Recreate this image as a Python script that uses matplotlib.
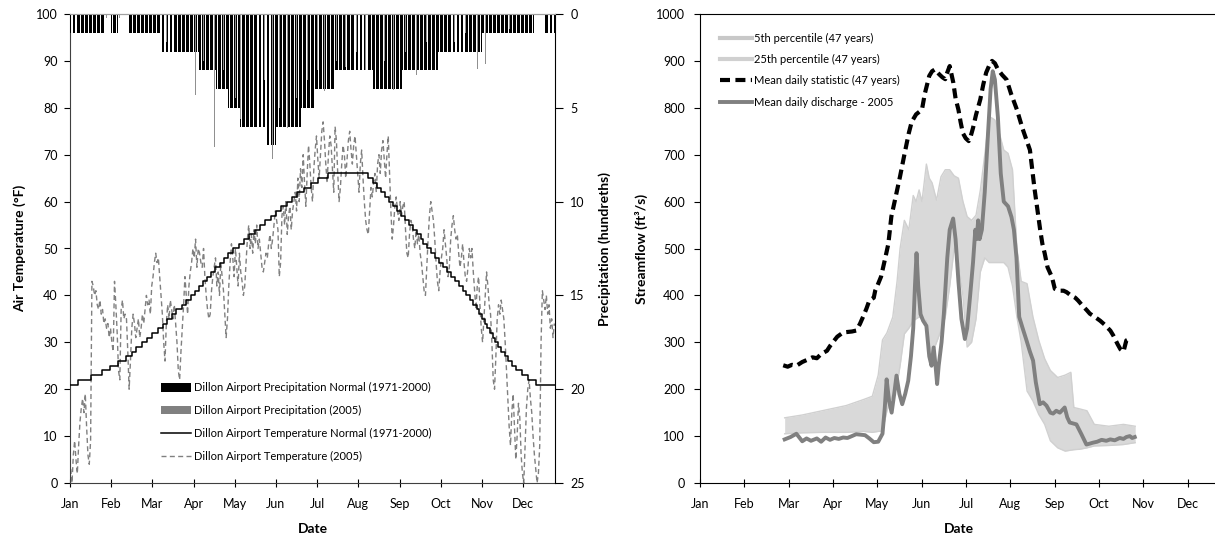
import numpy as np
import matplotlib
matplotlib.use("Agg")
import matplotlib.pyplot as plt
from matplotlib.lines import Line2D
from matplotlib.patches import Patch

plt.rcParams['font.family'] = ['Lato', 'DejaVu Sans']

# ---------------- data ----------------
month_labels = ['Jan', 'Feb', 'Mar', 'Apr', 'May', 'Jun', 'Jul', 'Aug', 'Sep', 'Oct', 'Nov', 'Dec']
month_tick_days = [0, 31, 62, 93, 124, 155, 186, 217, 248, 279, 310, 341]

# Dillon Airport normal temperature (1971-2000): day on which each value starts
temp_normal_days = [0, 6, 16, 24, 30, 36, 42, 47, 50, 54, 58, 62, 66, 70, 73, 77, 80, 84, 87, 91,
                    94, 97, 100, 103, 106, 109, 113, 116, 119, 123, 127, 131, 135, 139, 143, 147,
                    151, 155, 159, 163, 167, 171, 176, 181, 187, 194,
                    224, 228, 231, 234, 237, 240, 243, 246, 249, 252, 255, 258, 261, 264, 266,
                    269, 272, 275, 278, 281, 284, 287, 290, 293, 296, 298, 301, 303, 306, 308,
                    310, 312, 314, 316, 318, 320, 322, 324, 327, 330, 333, 336, 340, 345, 351, 365]
temp_normal_vals = [21, 22, 23, 24, 25, 26, 27, 28, 29, 30, 31, 32, 33, 34, 35, 36, 37, 38, 39, 40,
                    41, 42, 43, 44, 45, 46, 47, 48, 49, 50, 51, 52, 53, 54, 55, 56,
                    57, 58, 59, 60, 61, 62, 63, 64, 65, 66,
                    65, 64, 63, 62, 61, 60, 59, 58, 57, 56, 55, 54, 53, 52, 51,
                    50, 49, 48, 47, 46, 45, 44, 43, 42, 41, 40, 39, 38, 37, 36,
                    35, 34, 33, 32, 31, 30, 29, 28, 27, 26, 25, 24, 23, 22, 21, 21]

# Dillon Airport daily temperature, 2005 (deg F)
temp_2005_jan = [3, 0, 6, 9, 5, 2, 8, 13, 16, 18, 15, 19, 12, 6, 4, 9, 43, 42, 40, 41, 38, 37, 39, 36, 37, 34, 35, 33, 34, 31, 33]
temp_2005_feb = [30, 28, 43, 38, 32, 24, 22, 37, 39, 35, 36, 35, 28, 20, 26, 33, 36, 34, 31, 33, 35, 31, 33, 36, 34, 37, 40, 38]
temp_2005_mar = [39, 36, 42, 44, 47, 49, 47, 48, 44, 40, 36, 30, 26, 34, 38, 35, 39, 37, 35, 38, 34, 30, 24, 22, 28, 33, 38, 44, 40, 36, 42]
temp_2005_apr = [45, 47, 50, 48, 52, 46, 50, 49, 47, 46, 50, 44, 40, 37, 35, 36, 41, 44, 46, 48, 42, 45, 40, 47, 44, 41, 36, 31, 35, 42]
temp_2005_may = [47, 51, 48, 44, 50, 46, 42, 49, 45, 43, 40, 42, 47, 52, 55, 50, 53, 49, 54, 51, 55, 50, 52, 49, 46, 45, 47, 49, 48, 51, 53]
temp_2005_jun = [50, 52, 55, 58, 56, 54, 44, 47, 57, 59, 55, 60, 53, 57, 59, 54, 58, 60, 62, 58, 65, 60, 67, 63, 70, 64, 59, 66, 72, 68]
temp_2005_jul = [63, 60, 67, 71, 74, 69, 65, 70, 75, 77, 73, 68, 64, 70, 74, 72, 67, 62, 76, 73, 66, 60, 63, 68, 72, 70, 65, 69, 73, 75, 71]
temp_2005_aug = [68, 72, 74, 70, 66, 62, 68, 71, 65, 60, 56, 54, 53, 58, 63, 61, 64, 66, 62, 68, 70, 66, 71, 73, 69, 65, 70, 74, 66, 58, 52]
temp_2005_sep = [55, 59, 61, 58, 56, 60, 57, 59, 60, 54, 49, 48, 53, 56, 55, 52, 50, 54, 51, 53, 49, 47, 44, 41, 40, 46, 52, 57, 60, 58]
temp_2005_oct = [56, 52, 47, 43, 41, 45, 48, 50, 54, 51, 48, 44, 46, 52, 55, 57, 54, 52, 53, 49, 46, 48, 51, 47, 44, 43, 46, 50, 48, 50, 45]
temp_2005_nov = [41, 37, 42, 44, 38, 33, 30, 35, 40, 45, 42, 38, 36, 30, 22, 20, 27, 35, 38, 36, 39, 37, 35, 30, 24, 18, 12, 8, 15, 19]
temp_2005_dec = [12, 5, 10, 17, 14, 6, 2, 0, 8, 16, 20, 22, 18, 15, 10, 6, 3, 0, 2, 8, 30, 41, 39, 37, 40, 36, 38, 33, 35, 31, 34]

# Normal daily precipitation (hundredths): level and the day each level ends
precip_normal_levels = [1, 0, 1, 0, 1, 2, 3, 4, 5, 6, 7, 6, 5, 4, 3, 4, 3, 2, 1, 0, 1]
precip_normal_ends = [26, 31, 36, 44, 68, 97, 110, 119, 128, 148, 155, 174, 184, 199, 228, 250, 277, 310, 349, 357, 365]

# 2005 daily precipitation (hundredths)
precip_2005_days = [27, 37, 72, 80, 94, 100, 108, 115, 124, 128, 135, 141, 146, 152, 157, 163, 170,
                    178, 186, 191, 200, 207, 215, 222, 236, 243, 252, 260, 268, 281, 289, 297, 306, 312, 330]
precip_2005_vals = [0.2, 0.2, 1.5, 1.2, 4.3, 2.5, 7.1, 3.0, 4.5, 5.6, 4.0, 5.5, 3.5, 7.75, 5.0, 6.1, 4.5,
                    3.5, 3.0, 4.1, 2.5, 2.8, 2.0, 3.0, 2.5, 4.05, 2.0, 3.25, 1.5, 5.1, 1.5, 1.0, 2.95, 2.65, 0.8]

# Streamflow: 5th and 25th percentile (47 years)
band_days = [59.2, 71.5, 86.8, 102.1, 114.4, 120.5, 124.6, 127.6, 130.7, 134.8, 137.8, 139.9, 142.9,
             146.0, 149.1, 151.1, 153.2, 155.2, 158.3, 160.3, 162.3, 165.4, 168.5, 171.5, 174.6,
             177.7, 180.7, 183.8, 186.8, 189.9, 193.0, 196.0, 199.1, 202.2, 204.2, 206.2, 209.3,
             212.4, 215.4, 218.5, 221.6, 224.6, 228.7, 232.8, 236.9, 241.0, 245.0, 250.1, 255.3,
             259.3, 261.4, 265.5, 270.6, 275.7, 285.9, 296.1, 304.3]
pct25 = [139, 145, 155, 165, 178, 185, 230, 305, 320, 354, 430, 500, 560, 540, 613, 600, 625, 600, 680,
         650, 640, 603, 653, 668, 668, 655, 650, 601, 568, 560, 571, 624, 700, 781, 778, 774, 746,
         710, 703, 668, 500, 430, 425, 354, 304, 265, 240, 225, 230, 236, 161, 158, 154, 125, 121,
         125, 121]
pct5 = [105, 107, 108, 108, 110, 108, 110, 111, 154, 190, 211, 250, 318, 330, 346, 350, 354, 350, 346,
        300, 275, 300, 325, 354, 420, 500, 470, 400, 290, 300, 350, 450, 480, 470, 470, 470, 470,
        470, 460, 420, 354, 300, 196, 175, 146, 125, 90, 75, 68, 70, 71, 72, 75, 79, 80,
        82, 86]

# Mean daily statistic (47 years)
mean_days = [58.2, 61.3, 64.3, 67.4, 71.5, 74.5, 78.6, 81.7, 84.7, 88.8, 90.9, 92.9, 96.0, 100.1,
             103.1, 106.2, 109.2, 111.8, 114.4, 116.4, 118.4, 121.5, 122.5, 124.6, 126.6, 129.7,
             131.7, 133.8, 136.8, 139.9, 142.9, 146.0, 148.0, 151.1, 155.2, 157.2, 160.3, 162.3,
             164.4, 165.9, 167.4, 169.5, 171.5, 172.5, 174.6, 175.6, 177.1, 178.7, 180.7, 182.2,
             183.8, 185.8, 187.9, 188.9, 190.9, 193.0, 196.0, 198.1, 200.1, 202.2, 204.2, 206.2,
             208.3, 211.3, 214.4, 217.5, 221.6, 225.6, 230.7, 233.8, 237.9, 239.4, 241.0, 243.0,
             246.1, 248.1, 251.2, 254.2, 256.3, 259.3, 262.4, 264.4, 267.5, 270.6, 272.6, 275.7,
             279.8, 282.8, 286.9, 288.9, 292.0, 294.0, 296.1, 297.1, 298.1, 300.2]
mean_vals = [251, 248, 252, 250, 258, 262, 268, 266, 275, 282, 292, 300, 312, 321, 322, 323, 325, 339,
             357, 372, 389, 395, 410, 425, 440, 482, 510, 568, 610, 654, 700, 746, 770, 786, 796, 830,
             868, 878, 882, 876, 871, 865, 861, 872, 889, 875, 854, 820, 796, 770, 746, 735, 729, 735,
             757, 785, 818, 850, 875, 890, 900, 895, 882, 870, 860, 830, 796, 755, 710, 630, 539,
             510, 490, 460, 439, 414, 410, 410, 407, 400, 395, 389, 378, 368, 361, 355, 346, 338,
             325, 315, 296, 285, 280, 292, 304, 307]

# Mean daily discharge - 2005
q_days = [59.2, 63.3, 67.4, 71.5, 74.5, 77.6, 81.7, 84.7, 87.8, 90.9, 93.9, 97.0, 100.1, 103.1,
          106.2, 109.2, 112.3, 115.4, 118.4, 121.5, 124.6, 127.6, 129.2, 130.5, 132.2, 134.0, 135.8,
          137.4, 139.4, 141.4, 143.5, 145.6, 147.5, 149.1, 150.3, 151.4, 152.6, 154.2, 156.0, 158.3,
          160.3, 161.9, 163.4, 164.7, 165.8, 166.9, 168.9, 170.5, 172.9, 174.6, 177.0, 178.7, 180.7,
          182.8, 185.2, 186.8, 188.9, 190.9, 192.5, 193.5, 194.5, 195.5, 197.1, 199.1, 201.1, 203.2,
          204.7, 206.2, 208.3, 210.3, 212.4, 215.4, 217.8, 219.5, 221.3, 223.2, 225.6, 228.3, 230.7,
          232.9, 234.8, 237.6, 239.9, 242.3, 245.0, 246.9, 249.1, 251.6, 255.0, 256.8, 258.5, 263.2,
          266.7, 270.2, 272.6, 274.8, 277.7, 280.8, 284.1, 286.9, 290.0, 293.5, 296.1, 298.1, 300.5,
          302.2, 304.0]
q_vals = [93, 98, 105, 89, 95, 90, 95, 88, 97, 92, 96, 94, 97, 96, 100, 104, 103, 102, 95, 87, 88,
          105, 160, 221, 175, 150, 190, 229, 190, 168, 190, 218, 270, 330, 420,
          490, 420, 360, 346, 335, 270, 250, 289, 250, 211, 250, 300, 360, 480, 540,
          564, 520, 430, 350, 307, 330, 400, 470, 540, 520, 560, 520, 540, 620, 730, 840,
          878, 860, 780, 660, 600, 590, 567, 540, 480, 354, 330, 304, 280, 261, 215,
          168, 172, 165, 150, 148, 154, 150, 161, 140, 129, 125, 104, 82, 84,
          86, 88, 92, 90, 93, 91, 96, 94, 98, 100, 96, 98]

# ---------------- figure ----------------
fig = plt.figure(figsize=(12.15, 5.40), dpi=100)
W, H = 1215.0, 540.0
axL = fig.add_axes([70 / W, 57 / H, 485 / W, 469 / H])
axP = axL.twinx()
axR = fig.add_axes([700 / W, 57 / H, 522 / W, 469 / H])

tick_font = 9
label_font = 10

# ---- left panel: temperature ----
temp_2005 = np.concatenate([temp_2005_jan, temp_2005_feb, temp_2005_mar, temp_2005_apr,
                            temp_2005_may, temp_2005_jun, temp_2005_jul, temp_2005_aug,
                            temp_2005_sep, temp_2005_oct, temp_2005_nov, temp_2005_dec])
days = np.arange(len(temp_2005)) + 0.5

axL.plot(temp_normal_days, temp_normal_vals, drawstyle='steps-post', color='black', lw=1.1, zorder=3)
axL.plot(days, temp_2005, color='#808080', lw=1.0, dashes=(3.6, 2.4), zorder=2)
axL.set_xlim(0, 365)
axL.set_ylim(0, 100)
axL.set_yticks(np.arange(0, 101, 10))
axL.set_xticks(month_tick_days)
axL.set_xticklabels(month_labels)
axL.tick_params(axis='x', direction='inout', length=6, labelsize=tick_font, pad=8)
axL.tick_params(axis='y', direction='out', length=4, labelsize=tick_font, pad=5)
axL.set_ylabel('Air Temperature (°F)', fontsize=label_font, fontweight='bold')
axL.yaxis.set_label_coords(-0.09, 0.5)
axL.set_xlabel('Date', fontsize=label_font, fontweight='bold')
axL.xaxis.set_label_coords(0.5, -0.085)
for s in ['left', 'bottom']:
    axL.spines[s].set_color('#404040')
axL.spines['top'].set_color('#a0a0a0')
axL.spines['right'].set_visible(False)

# ---- left panel: precipitation on an inverted secondary axis ----
lengths = np.diff(np.concatenate([[0], precip_normal_ends]))
precip_normal = np.repeat(precip_normal_levels, lengths)
pdays = np.arange(len(precip_normal)) + 0.5
axP.bar(pdays, precip_normal, width=0.72, color='black', linewidth=0, zorder=1)
axP.bar(np.array(precip_2005_days) + 0.5, precip_2005_vals, width=0.6, color='#909090', linewidth=0, zorder=2)
axP.set_ylim(25, 0)
axP.set_yticks(np.arange(0, 26, 5))
axP.tick_params(axis='y', direction='out', length=6, labelsize=tick_font, pad=5)
axP.set_ylabel('Precipitation (hundreths)', fontsize=label_font, fontweight='bold')
axP.yaxis.set_label_coords(1.089, 0.5)
axP.spines['right'].set_color('black')
axP.spines['top'].set_color('#a0a0a0')
axP.spines['left'].set_visible(False)
axP.spines['bottom'].set_visible(False)

left_handles = [Patch(facecolor='black', edgecolor='none'),
                Patch(facecolor='#808080', edgecolor='none'),
                Line2D([], [], color='black', lw=1.1),
                Line2D([], [], color='#808080', lw=1.0, dashes=(3.6, 2.4))]
left_labels = ['Dillon Airport Precipitation Normal (1971-2000)',
               'Dillon Airport Precipitation (2005)',
               'Dillon Airport Temperature Normal (1971-2000)',
               'Dillon Airport Temperature (2005)']
axP.legend(left_handles, left_labels, loc='upper left', bbox_to_anchor=(0.178, 0.224),
           frameon=False, fontsize=8, handlelength=2.7, handleheight=0.75, handletextpad=0.3,
           labelspacing=1.05, borderaxespad=0)

# ---- right panel: streamflow ----
axR.fill_between(band_days, pct5, pct25, color='#d9d9d9', linewidth=0, zorder=1)
axR.plot(band_days, pct5, color='#d0d0d0', lw=1.0, zorder=1)
axR.plot(band_days, pct25, color='#d0d0d0', lw=1.0, zorder=1)
axR.plot(mean_days, mean_vals, color='black', lw=3.0, dashes=(2.4, 1.3), zorder=3)
axR.plot(q_days, q_vals, color='#808080', lw=2.8, zorder=2, solid_joinstyle='round')
axR.set_xlim(0, 365)
axR.set_ylim(0, 1000)
axR.set_yticks(np.arange(0, 1001, 100))
axR.set_xticks(month_tick_days)
axR.set_xticklabels(month_labels)
axR.tick_params(axis='x', direction='inout', length=6, labelsize=tick_font, pad=8)
axR.tick_params(axis='y', direction='out', length=4, labelsize=tick_font, pad=7)
axR.set_ylabel('Streamflow (ft³/s)', fontsize=label_font, fontweight='bold')
axR.yaxis.set_label_coords(-0.10, 0.5)
axR.set_xlabel('Date', fontsize=label_font, fontweight='bold')
axR.xaxis.set_label_coords(0.497, -0.085)
axR.spines['right'].set_visible(False)

right_handles = [Line2D([], [], color='#c8c8c8', lw=3),
                 Line2D([], [], color='#d0d0d0', lw=3),
                 Line2D([], [], color='black', lw=3.0, dashes=(2.4, 1.3)),
                 Line2D([], [], color='#808080', lw=2.8)]
right_labels = ['5th percentile (47 years)', '25th percentile (47 years)',
                'Mean daily statistic (47 years)', 'Mean daily discharge - 2005']
axR.legend(right_handles, right_labels, loc='upper left', bbox_to_anchor=(0.03, 0.97),
           frameon=False, fontsize=8, handlelength=2.9, handletextpad=0.15,
           labelspacing=0.93, borderaxespad=0)

fig.savefig('out.png', dpi=100)
